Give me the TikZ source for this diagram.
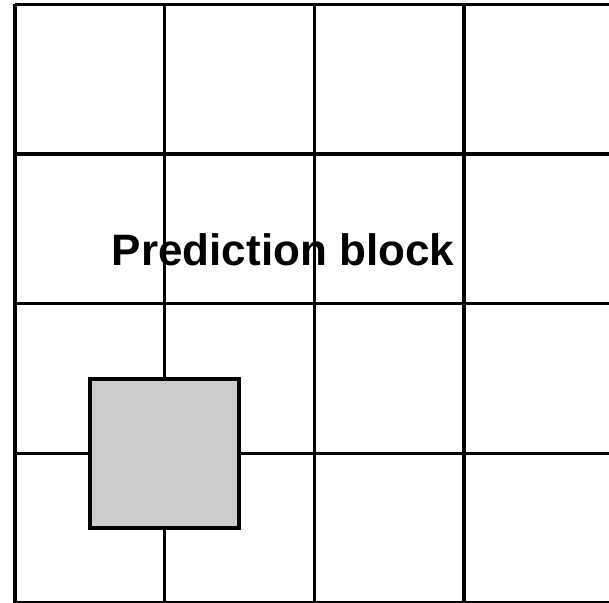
\documentclass[tikz,border=0pt]{standalone}
\usepackage{fontspec}
\setmainfont{Liberation Sans}
\usepackage{xcolor}
\definecolor{ink}{HTML}{000000}
\definecolor{blockfill}{HTML}{CCCCCC}

\begin{document}
\begin{tikzpicture}[
    x=1pt, y=-1pt,
    gridline/.style={draw=ink, line width=3.4pt},
    block/.style={draw=ink, fill=blockfill, line width=4pt, minimum size=149pt, inner sep=0pt},
    label/.style={font=\fontsize{44}{44}\selectfont\bfseries, text=ink, inner sep=0pt}
]

% Page frame, in pixels of the reference.
\useasboundingbox (0,0) rectangle (609,602);
\clip (0,0) rectangle (609,602);

% Grid of 150 px cells.
\def\xo{15}
\def\yo{4.5}
\def\cell{149.6}

\foreach \i in {0,...,4} {
    \draw[gridline] (\xo+\i*\cell,\yo) -- (\xo+\i*\cell,\yo+4*\cell);
    \draw[gridline] (\xo,\yo+\i*\cell) -- (\xo+4*\cell,\yo+\i*\cell);
}

% Grey block centred on a grid crossing.
\node[block] (pblock) at (\xo+\cell,\yo+3*\cell) {};

% Label.
\node[label, anchor=base] (plabel) at (283,265) {Prediction block};

\end{tikzpicture}
\end{document}
